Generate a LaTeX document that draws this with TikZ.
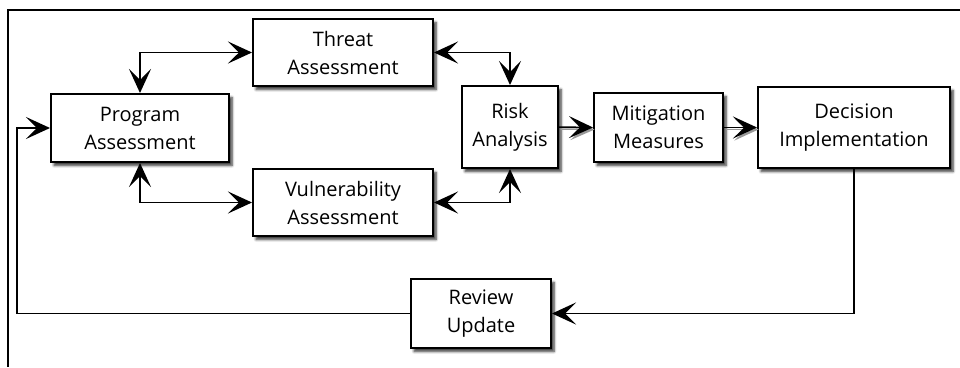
\documentclass[tikz,border=0pt]{standalone}
\usepackage{fontspec}
\setmainfont{Open Sans}
\usetikzlibrary{arrows.meta,shadows.blur}

\tikzset{
  stagebox/.style={draw=black, line width=2pt, fill=white, align=center,
    inner sep=0pt, font=\fontsize{20}{28}\selectfont,
    blur shadow={shadow xshift=3pt, shadow yshift=-3.5pt, shadow blur steps=6,
      shadow blur radius=2.5pt, shadow opacity=80}},
  link/.style={line width=1.5pt, draw=black},
  linkshade/.style={line width=1.5pt, draw=black!40},
  frameline/.style={line width=1.6pt, draw=black},
  >={Stealth[length=24pt, width=22pt, inset=11pt]}
}

\begin{document}
\begin{tikzpicture}[x=1pt, y=-1pt]
  \useasboundingbox (0,0) rectangle (960,367);

  % outer frame edges
  \coordinate (frameTL) at (8,10);
  \coordinate (frameTR) at (960,10);
  \coordinate (frameBL) at (8,367);
  \draw[frameline] (frameTR) -- (frameTL) -- (frameBL);

  % stages
  \node[stagebox, minimum width=178pt, minimum height=68pt] (prog) at (140,128) {Program\\Assessment};
  \node[stagebox, minimum width=180pt, minimum height=67pt] (threat) at (343,52.5) {Threat\\Assessment};
  \node[stagebox, minimum width=180pt, minimum height=67pt] (vuln) at (343,202.5) {Vulnerability\\Assessment};
  \node[stagebox, minimum width=96pt, minimum height=82pt] (risk) at (510,127) {Risk\\Analysis};
  \node[stagebox, minimum width=129pt, minimum height=69pt] (mit) at (658.5,127.5) {Mitigation\\Measures};
  \node[stagebox, minimum width=192pt, minimum height=81pt] (dec) at (854,127.5) {Decision\\Implementation};
  \node[stagebox, minimum width=140pt, minimum height=69pt] (rev) at (481,313.5) {Review\\Update};

  % two-way links around the assessments
  \draw[link, <->] (prog.north) |- (threat.west);
  \draw[link, <->] (prog.south) |- (vuln.west);
  \draw[link, <->] (threat.east) -| (risk.north);
  \draw[link, <->] (vuln.east) -| (risk.south);

  % forward chain with soft shading under the arrows
  \draw[linkshade, ->, transform canvas={xshift=1.5pt, yshift=-2pt}] (risk.east) -- (mit.west);
  \draw[linkshade, ->, transform canvas={xshift=1.5pt, yshift=-2pt}] (mit.east) -- (dec.west);
  \draw[link, ->] (risk.east) -- (mit.west);
  \draw[link, ->] (mit.east) -- (dec.west);

  % feedback loop
  \coordinate (loopx) at (17,220);
  \draw[link, ->] (dec.south) |- (rev.east);
  \draw[link, ->] (rev.west) -| (loopx) |- (prog.west);
\end{tikzpicture}
\end{document}
